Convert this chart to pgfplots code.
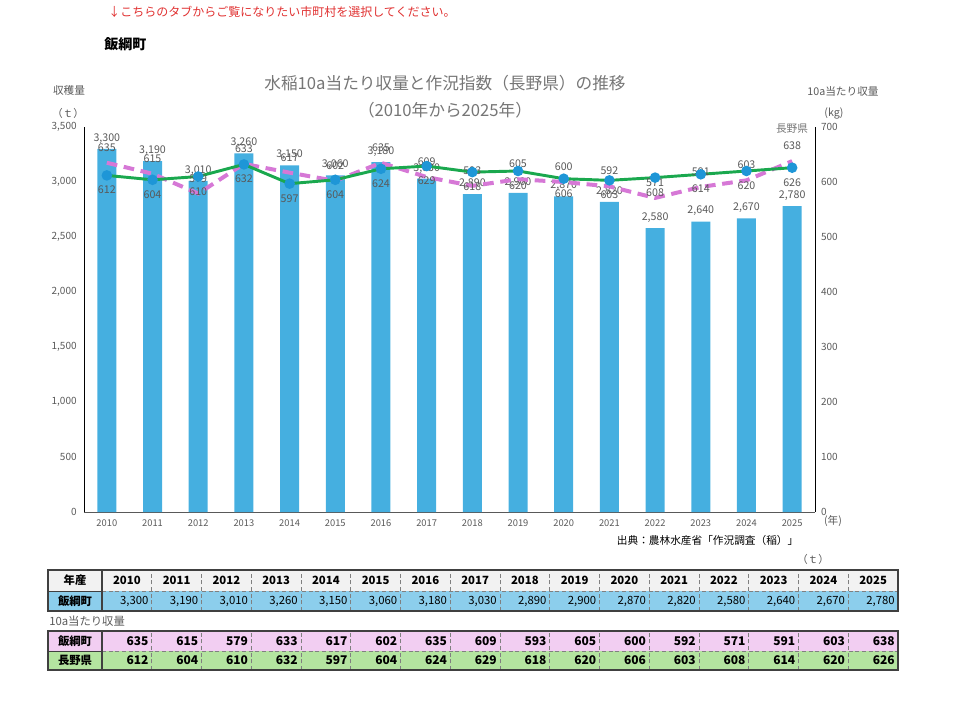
\documentclass[border=0pt]{standalone}
\usepackage{fontspec}
\setmainfont{Noto Sans CJK JP}
\usepackage{pgfplots}
\pgfplotsset{compat=1.18}
\definecolor{barblue}{RGB}{69,175,224}
\definecolor{lgreen}{RGB}{26,168,78}
\definecolor{mblue}{RGB}{30,150,215}
\definecolor{lpink}{RGB}{214,120,214}
\definecolor{lgray}{RGB}{89,89,89}
\definecolor{tgray}{RGB}{118,118,118}
\definecolor{hgray}{RGB}{242,242,242}
\definecolor{rblue}{RGB}{140,206,236}
\definecolor{rpink}{RGB}{242,206,242}
\definecolor{rgreen}{RGB}{180,228,160}
\definecolor{bord}{RGB}{64,64,64}
\definecolor{redtxt}{RGB}{224,48,48}
\newcommand\fs[1]{\fontsize{#1}{#1}\selectfont}
\pgfplotstableread{
x harvest
0 3300
1 3190
2 3010
3 3260
4 3150
5 3060
6 3180
7 3030
8 2890
9 2900
10 2870
11 2820
12 2580
13 2640
14 2670
15 2780
}\harvest
\pgfplotstableread{
x iizuna nagano
0 635 612
1 615 604
2 579 610
3 633 632
4 617 597
5 602 604
6 635 624
7 609 629
8 593 618
9 605 620
10 600 606
11 592 603
12 571 608
13 591 614
14 603 620
15 638 626
}\yields
\begin{document}
\begin{tikzpicture}
\useasboundingbox (0pt,0pt) rectangle (720pt,525.75pt);

\begin{axis}[
  at={(63pt,141.75pt)}, anchor=south west, scale only axis,
  width=548.25pt, height=288.75pt,
  xmin=-0.5, xmax=15.5, ymin=0, ymax=3500,
  axis x line*=bottom, axis y line*=left,
  x axis line style={draw=lgray,-}, y axis line style={draw=black,-},
  ytick={0,500,...,3500}, xtick={0,...,15},
  xticklabels={2010,2011,2012,2013,2014,2015,2016,2017,2018,2019,2020,2021,2022,2023,2024,2025},
  tick style={draw=none},
  /pgf/number format/assume math mode=true,
  /pgf/number format/1000 sep={,},
  yticklabel style={font=\fs{7.5},text=lgray,xshift=-2pt},
  xticklabel style={font=\fs{7},text=lgray,yshift=-2pt},
  clip=false,
]
\addplot[ybar, bar width=14.25pt, fill=barblue, draw=none,
  nodes near coords, nodes near coords style={font=\fs{8},text=lgray,anchor=south,inner sep=1pt,yshift=3pt}]
  table[x=x,y=harvest] {\harvest};
\end{axis}

\begin{axis}[
  at={(63pt,141.75pt)}, anchor=south west, scale only axis,
  width=548.25pt, height=288.75pt,
  xmin=-0.5, xmax=15.5, ymin=0, ymax=700,
  axis x line=none, axis y line*=right,
  y axis line style={draw=black,-},
  ytick={0,100,...,700},
  tick style={draw=none},
  /pgf/number format/assume math mode=true,
  yticklabel style={font=\fs{7.5},text=lgray,xshift=1pt},
  clip=false,
]
\addplot[lpink, line width=3pt, dash pattern=on 8pt off 5pt, no markers,
  nodes near coords, nodes near coords style={font=\fs{8},text=lgray,anchor=south,inner sep=1pt,yshift=6pt}]
  table[x=x,y=iizuna] {\yields};
\addplot[lgreen, line width=2.2pt, mark=*, mark size=2.8pt, mark options={fill=mblue,draw=mblue,solid},
  nodes near coords, nodes near coords style={font=\fs{8},text=lgray,anchor=north,inner sep=1pt,yshift=-6pt}]
  table[x=x,y=nagano] {\yields};
\end{axis}

\begin{scope}[x=0.75pt,y=0.75pt]
% header texts
\node[anchor=west,font=\fs{9},text=redtxt,inner sep=0] at (108,689) {↓こちらのタブからご覧になりたい市町村を選択してください。};
\node[anchor=west,font=\fs{10.5}\bfseries,inner sep=0] at (104,657) {飯綱町};
\node[font=\fs{12.5},text=tgray] at (445,618) {水稲10a当たり収量と作況指数（長野県）の推移};
\node[font=\fs{12.5},text=tgray] at (445,591) {（2010年から2025年）};
\node[font=\fs{8},text=lgray] at (69,611) {収穫量};
\node[font=\fs{8},text=lgray] at (68,588) {（ｔ）};
\node[font=\fs{8},text=lgray] at (843,610) {10a当たり収量};
\node[font=\fs{8},text=lgray] at (834,588) {(kg)};
\node[font=\fs{8},text=tgray] at (792,572) {長野県};
\node[font=\fs{8},text=lgray] at (833,180) {(年)};
\node[font=\fs{8},text=black,anchor=east] at (803,161) {出典：農林水産省「作況調査（稲）」};
\node[font=\fs{8},text=lgray] at (813,142) {（ｔ）};

% table
\fill[hgray] (48,110) rectangle (898,131);
\fill[rblue] (48,90) rectangle (898,110);
\fill[rpink] (48,50) rectangle (898,70);
\fill[rgreen] (48,31) rectangle (898,50);
\foreach \i in {1,...,15} {
  \draw[gray,densely dashed,line width=0.5pt] ({102+\i*49.75},90) -- ({102+\i*49.75},131);
  \draw[gray,densely dashed,line width=0.5pt] ({102+\i*49.75},31) -- ({102+\i*49.75},70);
}
\draw[gray,densely dashed,line width=0.5pt] (102,110) -- (898,110);
\draw[gray,densely dashed,line width=0.5pt] (102,50) -- (898,50);
\draw[bord,line width=0.8pt] (48,90) rectangle (898,131);
\draw[bord,line width=0.8pt] (48,31) rectangle (898,70);
\draw[bord,line width=0.8pt] (102,90) -- (102,131);
\draw[bord,line width=0.8pt] (102,31) -- (102,70);
\draw[bord,line width=0.6pt] (48,110) -- (102,110);
\draw[bord,line width=0.6pt] (48,50) -- (102,50);
\node[font=\fs{8.5}\bfseries] at (75,120.5) {年産};
\node[font=\fs{8.5}\bfseries] at (75,100) {飯綱町};
\node[font=\fs{8.5}\bfseries] at (75,60) {飯綱町};
\node[font=\fs{8.5}\bfseries] at (75,40.5) {長野県};
\node[font=\fs{8.5},text=lgray,anchor=west,inner sep=0] at (49,80) {10a当たり収量};
\foreach \v [count=\i from 0] in {2010,2011,2012,2013,2014,2015,2016,2017,2018,2019,2020,2021,2022,2023,2024,2025}
  \node[font=\fs{8.5}\bfseries] at ({102+(\i+0.5)*49.75},120.5) {\v};
\foreach \v [count=\i from 1] in {{3,300},{3,190},{3,010},{3,260},{3,150},{3,060},{3,180},{3,030},{2,890},{2,900},{2,870},{2,820},{2,580},{2,640},{2,670},{2,780}}
  \node[font=\fs{8.5},anchor=east,inner sep=0] at ({102+\i*49.75-3},100) {\v};
\foreach \v [count=\i from 1] in {635,615,579,633,617,602,635,609,593,605,600,592,571,591,603,638}
  \node[font=\fs{9}\bfseries,anchor=east,inner sep=0] at ({102+\i*49.75-3},60) {\v};
\foreach \v [count=\i from 1] in {612,604,610,632,597,604,624,629,618,620,606,603,608,614,620,626}
  \node[font=\fs{9}\bfseries,anchor=east,inner sep=0] at ({102+\i*49.75-3},40.5) {\v};
\end{scope}
\end{tikzpicture}
\end{document}
